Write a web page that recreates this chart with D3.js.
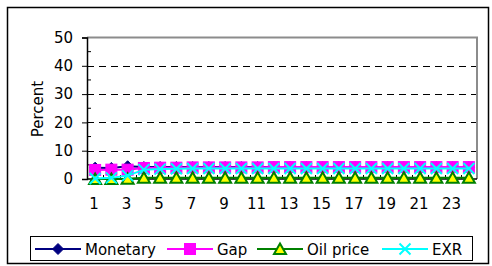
<!DOCTYPE html>
<html>
<head>
<meta charset="utf-8">
<script src="https://cdn.jsdelivr.net/npm/d3@7"></script>
<style>
  body { margin: 0; background: #fff; }
  svg { display: block; font-family: "DejaVu Sans", sans-serif; }
</style>
</head>
<body>
<svg id="chart" width="492" height="266"></svg>
<script>
/* chart values */
var categories = [1, 2, 3, 4, 5, 6, 7, 8, 9, 10, 11, 12, 13, 14, 15, 16, 17, 18, 19, 20, 21, 22, 23, 24];
var monetary = [4.0, 3.9, 4.5, 4.2, 4.2, 4.2, 4.2, 4.2, 4.2, 4.2, 4.2, 4.2, 4.2, 4.2, 4.2, 4.2, 4.2, 4.2, 4.2, 4.2, 4.2, 4.2, 4.2, 4.2];
var gap = [3.2, 3.3, 3.3, 3.9, 4.0, 4.0, 4.1, 4.1, 4.1, 4.1, 4.1, 4.2, 4.2, 4.2, 4.2, 4.2, 4.2, 4.2, 4.2, 4.2, 4.2, 4.2, 4.2, 4.2];
var oilPrice = [0.0, 0.0, 0.1, 0.4, 0.4, 0.4, 0.4, 0.4, 0.4, 0.4, 0.4, 0.4, 0.4, 0.4, 0.4, 0.4, 0.4, 0.4, 0.4, 0.4, 0.4, 0.4, 0.4, 0.4];
var exr = [0.2, 0.4, 1.2, 3.3, 3.5, 3.6, 3.7, 3.7, 3.7, 3.7, 3.7, 3.7, 3.7, 3.7, 3.7, 3.7, 3.7, 3.7, 3.7, 3.7, 3.7, 3.7, 3.7, 3.7];
var yTicks = [0, 10, 20, 30, 40, 50];
var yMinor = [5, 15, 25, 35, 45];
var xLabels = [1, 3, 5, 7, 9, 11, 13, 15, 17, 19, 21, 23];

var series = [
  { name: "Monetary", values: monetary, stroke: "#000080", fill: "#000080", shape: "diamond" },
  { name: "Gap", values: gap, stroke: "#ff00ff", fill: "#ff00ff", shape: "square" },
  { name: "Oil price", values: oilPrice, stroke: "#008000", fill: "#ffff00", shape: "triangle" },
  { name: "EXR", values: exr, stroke: "#00ffff", fill: "none", shape: "cross" }
];

var plot = { left: 87, right: 477, top: 37.5, bottom: 179 };
var fontSize = 15;

var svg = d3.select("#chart");

var x = d3.scaleBand().domain(categories).range([plot.left, plot.right]);
var y = d3.scaleLinear().domain([0, 50]).range([plot.bottom, plot.top]);

// outer chart border
svg.append("rect")
  .attr("x", 7.5).attr("y", 7.5)
  .attr("width", 481).attr("height", 256)
  .attr("fill", "none")
  .attr("stroke", "#000")
  .attr("stroke-width", 1.5);

// dashed gridlines
svg.append("g")
  .selectAll("line")
  .data([10, 20, 30, 40])
  .enter().append("line")
  .attr("x1", plot.left).attr("x2", plot.right)
  .attr("y1", function(d) { return Math.round(y(d)) + 0.5; })
  .attr("y2", function(d) { return Math.round(y(d)) + 0.5; })
  .attr("stroke", "#000")
  .attr("stroke-dasharray", "7,5");

// plot frame top + right (gray)
svg.append("path")
  .attr("d", "M" + plot.left + "," + y(50) + "H" + plot.right + "V" + plot.bottom)
  .attr("fill", "none")
  .attr("stroke", "#8c8c8c")
  .attr("stroke-width", 2);

// y axis
var yAxis = d3.axisLeft(y).tickValues(yTicks).tickSize(5).tickPadding(9);
var gy = svg.append("g")
  .attr("transform", "translate(" + plot.left + ",0)")
  .call(yAxis);
gy.select(".domain").attr("stroke", "#000").attr("stroke-width", 1.5);
gy.selectAll("text").attr("font-size", fontSize).attr("fill", "#000").attr("font-family", "DejaVu Sans");
gy.selectAll(".tick line").attr("stroke", "#000");

svg.append("g")
  .selectAll("line")
  .data(yMinor)
  .enter().append("line")
  .attr("x1", plot.left).attr("x2", plot.left + 4)
  .attr("y1", function(d) { return y(d); })
  .attr("y2", function(d) { return y(d); })
  .attr("stroke", "#000");

// y label
svg.append("text")
  .attr("transform", "translate(43,109) rotate(-90)")
  .attr("text-anchor", "middle")
  .attr("font-size", fontSize)
  .text("Percent");

// x axis line + boundary ticks
svg.append("line")
  .attr("x1", plot.left).attr("x2", plot.right)
  .attr("y1", plot.bottom).attr("y2", plot.bottom)
  .attr("stroke", "#000")
  .attr("stroke-width", 1.5);

svg.append("g")
  .selectAll("line")
  .data(categories)
  .enter().append("line")
  .attr("x1", function(d) { return Math.round(x(d)) + 0.5; })
  .attr("x2", function(d) { return Math.round(x(d)) + 0.5; })
  .attr("y1", plot.bottom).attr("y2", plot.bottom - 4)
  .attr("stroke", "#000");

svg.append("g")
  .selectAll("text")
  .data(xLabels)
  .enter().append("text")
  .attr("x", function(d) { return x(d) + x.bandwidth() / 2 - 1; })
  .attr("y", 208.5)
  .attr("text-anchor", "middle")
  .attr("font-size", fontSize)
  .text(function(d) { return d; });

// marker shapes
function drawMarker(g, shape, stroke, fill) {
  if (shape === "diamond") {
    g.append("path").attr("d", "M0,-5.5L5.5,0L0,5.5L-5.5,0Z").attr("fill", fill).attr("stroke", stroke);
  } else if (shape === "square") {
    g.append("rect").attr("x", -5.5).attr("y", -5.5).attr("width", 11).attr("height", 11)
      .attr("fill", fill).attr("stroke", stroke);
  } else if (shape === "triangle") {
    g.append("path").attr("d", "M0,-5.5L6,5L-6,5Z").attr("fill", fill)
      .attr("stroke", stroke).attr("stroke-width", 2).attr("stroke-linejoin", "miter");
  } else if (shape === "cross") {
    g.append("path").attr("d", "M-5.5,-5.5L5.5,5.5M-5.5,5.5L5.5,-5.5").attr("fill", "none")
      .attr("stroke", stroke).attr("stroke-width", 2);
  }
}

var line = d3.line()
  .x(function(d, i) { return x(categories[i]) + x.bandwidth() / 2; })
  .y(function(d) { return y(d); });

series.forEach(function(s) {
  var g = svg.append("g");
  g.append("path")
    .datum(s.values)
    .attr("d", line)
    .attr("fill", "none")
    .attr("stroke", s.stroke)
    .attr("stroke-width", 2);
  g.selectAll("g.marker")
    .data(s.values)
    .enter().append("g")
    .classed("marker", true)
    .attr("transform", function(d, i) {
      return "translate(" + (x(categories[i]) + x.bandwidth() / 2) + "," + y(d) + ")";
    })
    .each(function() { drawMarker(d3.select(this), s.shape, s.stroke, s.fill); });
});

// legend
var legend = svg.append("g");
legend.append("rect")
  .attr("x", 30.5).attr("y", 236.5)
  .attr("width", 442).attr("height", 24)
  .attr("fill", "#fff")
  .attr("stroke", "#000");

var legendX = [35, 167, 257, 382];
series.forEach(function(s, i) {
  var g = legend.append("g").attr("transform", "translate(" + legendX[i] + ",249)");
  g.append("line").attr("x1", 0).attr("x2", 46).attr("stroke", s.stroke).attr("stroke-width", 2);
  var m = g.append("g").attr("transform", "translate(23,0)");
  drawMarker(m, s.shape, s.stroke, s.fill);
  g.append("text")
    .attr("x", 50).attr("y", 5.5)
    .attr("font-size", fontSize)
    .text(s.name);
});
</script>
</body>
</html>
